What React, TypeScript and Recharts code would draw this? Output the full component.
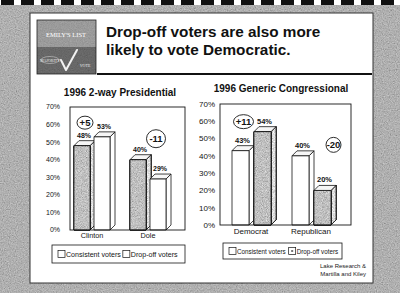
import React from 'react';
import { BarChart, Bar, XAxis, YAxis, LabelList } from 'recharts';

// 1996 vote share, consistent vs drop-off voters
const presCategories = ['Clinton', 'Dole'];
const presConsistent = [48, 40];
const presDropoff = [53, 29];

const congCategories = ['Democrat', 'Republican'];
const congConsistent = [43, 40];
const congDropoff = [54, 20];

const pctTicks = [0, 10, 20, 30, 40, 50, 60, 70];
const seriesNames = ['Consistent voters', 'Drop-off voters'];

const FONT = '"Liberation Sans", Arial, Helvetica, sans-serif';
const INK = '#141414';
const DEPTH = 5;

type Row = { name: string; consistent: number; dropoff: number; shift: number };

const buildRows = (cats: string[], a: number[], b: number[]): Row[] =>
  cats.map((name, i) => ({ name, consistent: a[i], dropoff: b[i], shift: b[i] - a[i] }));

const fmtShift = (v: number) => (v > 0 ? `+${v}` : `${v}`);

// front face + top + right side, like an old clip-art 3d column
const Box3D = (props: any) => {
  const { x, y, width, height, face, side } = props;
  if (!height || height <= 0) return null;
  const d = DEPTH;
  const top = `M${x},${y} L${x + d},${y - d} L${x + width + d},${y - d} L${x + width},${y} Z`;
  const right = `M${x + width},${y} L${x + width + d},${y - d} L${x + width + d},${y + height - d} L${x + width},${y + height} Z`;
  const grain = face !== '#ffffff' ? 'url(#grain-bar)' : undefined;
  return (
    <g stroke={INK} strokeWidth={0.8} strokeLinejoin="round">
      <path d={right} fill={side} filter={grain} />
      <path d={top} fill="#f6f6f6" />
      <rect x={x} y={y} width={width} height={height} fill={face} filter={grain} />
    </g>
  );
};

const valueLabel = (fs: number) => (p: any) => {
  const vb = p.viewBox || p;
  const x = p.x ?? vb.x;
  const y = p.y ?? vb.y;
  const w = p.width ?? vb.width;
  return (
    <text x={x + w / 2 + 2} y={y - DEPTH - 3} textAnchor="middle" fontSize={fs} fontWeight="bold" fontFamily={FONT} fill={INK}>
      {p.value}%
    </text>
  );
};

// circled point swing, placed relative to the consistent-voter column
const noteLabel = (pos: number[][], size: number[][], fs: number) => (p: any) => {
  const vb = p.viewBox || p;
  const x = p.x ?? vb.x;
  const y = p.y ?? vb.y;
  const w = p.width ?? vb.width;
  const i = p.index ?? 0;
  const cx = x + w / 2 + pos[i][0];
  const cy = y + pos[i][1];
  return (
    <g>
      <ellipse cx={cx} cy={cy} rx={size[i][0]} ry={size[i][1]} fill="none" stroke={INK} strokeWidth={0.9} />
      <text x={cx} y={cy + fs * 0.36} textAnchor="middle" fontSize={fs} fontWeight="bold" fontFamily={FONT} fill={INK}>
        {fmtShift(p.value)}
      </text>
    </g>
  );
};

type ChartProps = {
  rows: Row[];
  textured: 'consistent' | 'dropoff';
  margin: { top: number; right: number; bottom: number; left: number };
  padding: { left: number; right: number };
  barSize: number;
  barGap: number;
  tickFont: number;
  catFont: number;
  catMargin: number;
  yTickMargin: number;
  valueFont: number;
  notePos: number[][];
  noteSize: number[][];
  noteFont: number;
};

const VoteChart = (c: ChartProps) => {
  const grayFace = '#bcbcbc';
  const graySide = '#dcdcdc';
  const faceOf = (k: string) => (k === c.textured ? grayFace : '#ffffff');
  const sideOf = (k: string) => (k === c.textured ? graySide : '#ffffff');
  return (
    <BarChart
      width={400}
      height={307}
      data={c.rows}
      margin={c.margin}
      barSize={c.barSize}
      barGap={c.barGap}
      style={{ position: 'absolute', left: 0, top: 0 }}
    >
      <XAxis
        dataKey="name"
        padding={c.padding}
        axisLine={false}
        tickLine={false}
        tickSize={0}
        tickMargin={c.catMargin}
        height={20}
        interval={0}
        tick={{ fontSize: c.catFont, fill: INK, fontFamily: FONT }}
      />
      <YAxis
        domain={[0, 70]}
        ticks={pctTicks}
        tickFormatter={(v: number) => `${v}%`}
        axisLine={false}
        tickLine={false}
        tickSize={0}
        tickMargin={c.yTickMargin}
        width={50}
        tick={{ fontSize: c.tickFont, fill: INK, fontFamily: FONT }}
      />
      <Bar
        dataKey="consistent"
        name={seriesNames[0]}
        isAnimationActive={false}
        shape={(p: any) => <Box3D {...p} face={faceOf('consistent')} side={sideOf('consistent')} />}
      >
        <LabelList dataKey="consistent" content={valueLabel(c.valueFont)} />
        <LabelList dataKey="shift" content={noteLabel(c.notePos, c.noteSize, c.noteFont)} />
      </Bar>
      <Bar
        dataKey="dropoff"
        name={seriesNames[1]}
        isAnimationActive={false}
        shape={(p: any) => <Box3D {...p} face={faceOf('dropoff')} side={sideOf('dropoff')} />}
      >
        <LabelList dataKey="dropoff" content={valueLabel(c.valueFont)} />
      </Bar>
    </BarChart>
  );
};

const LegendBox = ({ x, y, w, h, fs, gap, dotted }: any) => {
  const s = 7;
  const sy = y + (h - s) / 2;
  const tx1 = x + 6 + s + 1;
  const w1 = 7.725 * fs;
  const sx2 = tx1 + w1 + gap;
  return (
    <g fontFamily={FONT} fontSize={fs} fill={INK}>
      <rect x={x} y={y} width={w} height={h} fill="#fff" stroke={INK} strokeWidth={0.8} />
      <rect x={x + 6} y={sy} width={s} height={s} fill="#fff" stroke={INK} strokeWidth={0.7} />
      <text x={tx1} y={sy + s - 0.5}>{seriesNames[0]}</text>
      <rect x={sx2} y={sy} width={s} height={s} fill="#fff" stroke={INK} strokeWidth={0.7} />
      {dotted && <rect x={sx2 + 2.5} y={sy + 2.5} width={2} height={2} fill="#777" />}
      <text x={sx2 + s + 1} y={sy + s - 0.5}>{seriesNames[1]}</text>
    </g>
  );
};

export default function App() {
  const presRows = buildRows(presCategories, presConsistent, presDropoff);
  const congRows = buildRows(congCategories, congConsistent, congDropoff);

  return (
    <div style={{ position: 'absolute', left: 0, top: 0, width: 400, height: 307, background: '#fff', overflow: 'hidden', fontFamily: FONT }}>
      <svg width={400} height={307} style={{ position: 'absolute', left: 0, top: 0 }}>
        <defs>
          <filter id="grain-bg" x="0" y="0" width="100%" height="100%">
            <feTurbulence type="fractalNoise" baseFrequency="0.85" numOctaves="2" seed="4" />
            <feColorMatrix type="matrix" values="0.33 0.33 0.33 0 0  0.33 0.33 0.33 0 0  0.33 0.33 0.33 0 0  0 0 0 0 1" />
          </filter>
          <filter id="grain-bar" x="-20%" y="-20%" width="140%" height="140%">
            <feTurbulence type="fractalNoise" baseFrequency="1.2" numOctaves="2" seed="9" result="n" />
            <feColorMatrix in="n" type="matrix" values="0.33 0.33 0.33 0 0  0.33 0.33 0.33 0 0  0.33 0.33 0.33 0 0  0 0 0 0 1" result="g" />
            <feComposite in="g" in2="SourceGraphic" operator="arithmetic" k1="2.2" k2="0" k3="-0.05" k4="0" />
          </filter>
          <pattern id="binding" width="20" height="5" patternUnits="userSpaceOnUse">
            <rect width="20" height="5" fill="#fff" />
            <rect x="1" width="13" height="5" fill="#111" />
          </pattern>
        </defs>

        {/* scanned page surround */}
        <rect x={0} y={5} width={400} height={288} fill="#8e8e8e" />
        <rect x={0} y={5} width={400} height={288} filter="url(#grain-bg)" opacity={0.75} />
        <rect x={0} y={0} width={400} height={5} fill="url(#binding)" />

        {/* slide */}
        <rect x={30} y={13} width={343} height={270} fill="#fff" stroke="#333" strokeWidth={1} />

        {/* logo */}
        <rect x={37} y={20} width={59} height={27} fill="#8a8a8a" />
        <rect x={37} y={20} width={59} height={27} filter="url(#grain-bg)" opacity={0.35} />
        <rect x={37} y={47} width={59} height={27} fill="#4c4c4c" />
        <rect x={37} y={47} width={59} height={27} filter="url(#grain-bg)" opacity={0.25} />
        <rect x={37} y={20} width={59} height={54} fill="none" stroke="#222" strokeWidth={0.8} />
        <text x={66} y={37} textAnchor="middle" fontSize={6.5} fontFamily='"Liberation Serif", serif' fill="#fff">EMILY'S LIST</text>
        <ellipse cx={50} cy={60} rx={9} ry={3.5} fill="none" stroke="#ddd" strokeWidth={0.5} />
        <text x={50} y={61.8} textAnchor="middle" fontSize={4} fontFamily='"Liberation Serif", serif' fill="#eee">MAJORITY</text>
        <path d="M61,60 L66,70 L77,50" fill="none" stroke="#f2f2f2" strokeWidth={2} strokeLinecap="round" strokeLinejoin="round" />
        <text x={85} y={67} textAnchor="middle" fontSize={4} fontFamily='"Liberation Serif", serif' fill="#eee">VOTE</text>

        <text x={106} y={37} fontSize={15.3} fontWeight="bold" fill="#111">Drop-off voters are also more</text>
        <text x={106} y={55} fontSize={15.3} fontWeight="bold" fill="#111">likely to vote Democratic.</text>
        <line x1={97} y1={74} x2={372} y2={74} stroke="#111" strokeWidth={2} />
      </svg>

      <VoteChart
        rows={presRows}
        textured="consistent"
        margin={{ top: 107, right: 215, bottom: 57, left: 20 }}
        padding={{ left: -6, right: 9 }}
        barSize={16}
        barGap={4}
        tickFont={7}
        catFont={7.3}
        catMargin={3}
        yTickMargin={10}
        valueFont={7}
        notePos={[[3, -23], [18, -21]]}
        noteSize={[[8, 6.5], [9.5, 9]]}
        noteFont={9.5}
      />
      <VoteChart
        rows={congRows}
        textured="dropoff"
        margin={{ top: 104, right: 49, bottom: 62, left: 170 }}
        padding={{ left: 1, right: 10 }}
        barSize={17}
        barGap={5}
        tickFont={8}
        catFont={8}
        catMargin={3}
        yTickMargin={5}
        valueFont={7.5}
        notePos={[[3, -29], [33, -11]]}
        noteSize={[[10, 7], [7.5, 7.5]]}
        noteFont={9.5}
      />

      <svg width={400} height={307} style={{ position: 'absolute', left: 0, top: 0, pointerEvents: 'none' }}>
        <g fontFamily={FONT} fontWeight="bold" fill="#111" fontSize={10}>
          <text x={120} y={96} textAnchor="middle">1996 2-way Presidential</text>
          <text x={281} y={92} textAnchor="middle">1996 Generic Congressional</text>
        </g>
        {/* plot frames */}
        <rect x={70} y={107} width={115} height={123} fill="none" stroke={INK} strokeWidth={0.9} />
        <rect x={220} y={104} width={131} height={121} fill="none" stroke={INK} strokeWidth={0.9} />

        <LegendBox x={52} y={245} w={133} h={18} fs={7.1} gap={2} />
        <LegendBox x={223} y={243} w={119} h={16} fs={6.3} gap={3} dotted />

        <g fontFamily={FONT} fontSize={6} fill="#222" textAnchor="end">
          <text x={366} y={268}>Lake Research &amp;</text>
          <text x={366} y={276}>Martilla and Kiley</text>
        </g>
      </svg>
    </div>
  );
}
